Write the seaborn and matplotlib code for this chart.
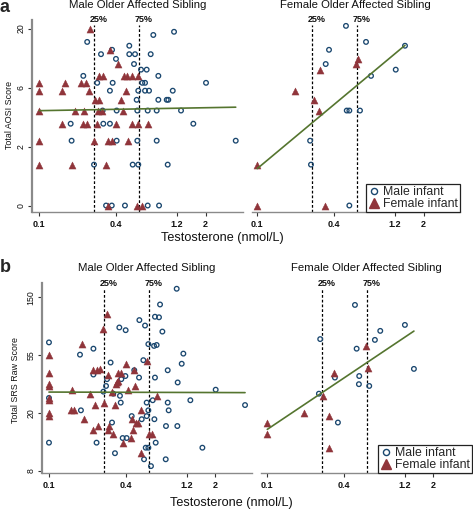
import numpy as np
import pandas as pd
import matplotlib
matplotlib.use("Agg")
import matplotlib.pyplot as plt
import seaborn as sns
from matplotlib.lines import Line2D
from matplotlib.ticker import NullLocator, FixedLocator

# ---------------- data ----------------
# Panel a: Total AOSI score, male older affected sibling
aosi_msib_boy_x = [1.133, 0.780, 0.237, 0.506, 0.371, 0.304, 0.506, 0.561, 0.744, 0.398, 0.551,
                   0.625, 0.692, 0.221, 0.854, 0.284, 0.375, 0.640, 0.672, 2.016, 0.357, 0.595,
                   0.672, 0.722, 1.107, 0.578, 0.854, 0.993, 1.022, 0.313, 0.403, 0.585, 0.705,
                   0.829, 1.285, 0.176, 0.317, 0.357, 1.604, 0.179, 0.403, 0.585, 0.829, 3.443,
                   0.268, 0.538, 0.595, 1.011, 0.333, 0.369, 0.468, 0.705, 0.865]
aosi_msib_boy_y = [18, 17, 15, 14, 13, 12, 12, 12, 12, 11, 10, 9, 9, 8, 8, 7, 7, 7, 7, 7, 6, 6, 6, 6, 6,
                   5, 5, 5, 5, 4, 4, 4, 4, 4, 4, 3, 3, 3, 3, 2, 2, 2, 2, 2, 1, 1, 1, 1, 0, 0, 0, 0, 0]
aosi_msib_girl_x = [0.249, 0.357, 0.415, 0.293, 0.313, 0.463, 0.483, 0.529, 0.595, 0.100, 0.159,
                    0.212, 0.231, 0.100, 0.150, 0.245, 0.474, 0.273, 0.295, 0.434, 0.100, 0.190,
                    0.224, 0.286, 0.308, 0.449, 0.150, 0.219, 0.237, 0.284, 0.398, 0.529, 0.595,
                    0.705, 0.100, 0.268, 0.347, 0.369, 0.497, 0.100, 0.181, 0.333, 0.347, 0.585, 0.633]
aosi_msib_girl_y = [19, 13, 10, 8, 8, 8, 8, 8, 8, 7, 7, 7, 7, 6, 6, 6, 6, 5, 5, 5, 4, 4, 4, 4, 4, 4,
                    3, 3, 3, 3, 3, 3, 3, 3, 2, 2, 2, 2, 2, 1, 1, 1, 0, 0, 0]
# Panel a: female older affected sibling
aosi_fsib_boy_x = [0.494, 0.709, 1.431, 0.364, 0.343, 1.211, 0.776, 0.501, 0.525, 0.636, 0.259, 0.263, 0.525]
aosi_fsib_boy_y = [20, 15, 14, 13, 10, 9, 8, 4, 4, 4, 2, 1, 0]
aosi_fsib_girl_x = [0.610, 0.592, 0.310, 0.197, 0.278, 0.306, 0.100, 0.100, 0.339]
aosi_fsib_girl_y = [11, 10, 9, 6, 5, 4, 1, 0, 0]

# Panel b: Total SRS raw score, male older affected sibling
srs_msib_boy_x = [1.002, 0.742, 0.677, 0.728, 0.511, 0.356, 0.399, 0.566, 0.774, 0.100, 0.601, 0.666,
                  0.698, 0.223, 0.175, 1.130, 0.549, 0.304, 1.097, 0.466, 0.223, 0.285, 0.397, 0.508,
                  0.852, 0.677, 1.020, 0.369, 0.280, 0.267, 2.025, 0.319, 0.360, 0.100, 0.365, 0.583,
                  0.650, 0.852, 1.282, 0.178, 0.601, 0.867, 0.445, 0.583, 0.533, 0.670, 0.312, 0.826,
                  1.014, 0.378, 0.406, 0.236, 0.686, 0.100, 0.573, 0.601, 1.593, 0.329, 0.556, 0.822,
                  0.630, 3.440]
srs_msib_boy_y = [172, 131, 106, 105, 100, 88, 84, 91, 82, 68, 66, 64, 65, 61, 55, 56, 50, 48, 47, 42,
                  39, 36, 38, 37, 42, 37, 34, 36, 32, 29, 30, 28, 27, 26, 24, 24, 25, 24, 25, 21, 21, 21,
                  19, 19, 18, 18, 17, 16, 16, 13, 13, 12, 12, 12, 11, 11, 11, 10, 9, 9, 8, 23]
srs_msib_girl_x = [0.287, 0.267, 0.183, 0.100, 0.401, 0.583, 0.221, 0.238, 0.251, 0.100, 0.288, 0.349,
                   0.367, 0.466, 0.345, 0.339, 0.333, 0.100, 0.100, 0.472, 0.416, 0.151, 0.310, 0.210,
                   0.100, 0.100, 0.698, 0.272, 0.229, 0.331, 0.526, 0.149, 0.157, 0.100, 0.100, 0.189,
                   0.445, 0.481, 0.502, 0.295, 0.242, 0.220, 0.292, 0.319, 0.453, 0.608, 0.646, 0.437,
                   0.383, 0.523]
srs_msib_girl_y = [111, 85, 66, 55, 47, 49, 42, 42, 43, 40, 39, 40, 40, 42, 35, 34, 33, 33, 32, 32, 30,
                   30, 29, 28, 26, 25, 27, 24, 23, 23, 21, 21, 21, 20, 19, 18, 18, 17, 17, 16, 16, 15,
                   15, 14, 15, 14, 14, 13, 12, 10]
# Panel b: female older affected sibling
srs_fsib_boy_x = [0.487, 1.200, 0.769, 0.698, 0.260, 0.502, 1.412, 0.339, 0.526, 0.523, 0.630, 0.254, 0.358]
srs_fsib_boy_y = [130, 92, 83, 71, 72, 61, 43, 37, 38, 33, 32, 28, 17]
srs_fsib_girl_x = [0.590, 0.612, 0.333, 0.275, 0.194, 0.304, 0.100, 0.100, 0.303]
srs_fsib_girl_y = [64, 44, 40, 27, 20, 19, 17, 14, 11]

# testosterone quartile reference lines
quartile_values = [0.268, 0.605]
quartile_labels = ["25%", "75%"]

# tick values / labels
x_ticks = [0.1, 0.4, 1.2, 2]
x_tick_labels = ["0.1", "0.4", "1.2", "2"]
aosi_ticks = [np.expm1(0), np.expm1(1), np.expm1(2), np.expm1(3)]
aosi_tick_labels = ["0", "2", "6", "20"]
srs_ticks = [np.exp(2), np.exp(3), np.exp(4), np.exp(5)]
srs_tick_labels = ["8", "20", "55", "150"]

panel_titles = ["Male Older Affected Sibling", "Female Older Affected Sibling"]
legend_labels = ["Male infant", "Female infant"]

# ---------------- style ----------------
sns.set_theme(style="ticks")
plt.rcParams["font.family"] = ["Liberation Sans", "DejaVu Sans"]

NAVY = "#1a476f"
MAROON = "#90353b"
GREEN = "#55752f"
SPINE = "#8a8a8a"

W, H = 473, 511
fig = plt.figure(figsize=(W / 100, H / 100), dpi=100)
fig.patch.set_facecolor("white")


def add_ax(x0, x1, ytop, ybot):
    return fig.add_axes([x0 / W, 1 - ybot / H, (x1 - x0) / W, (ybot - ytop) / H])


def fwd_aosi(v):
    with np.errstate(all="ignore"):
        return np.log1p(np.asarray(v, dtype=float))


def inv_aosi(v):
    return np.expm1(np.asarray(v, dtype=float))


def panel(ax, bx, by, gx, gy, kind, title, first, legend):
    dm = pd.DataFrame({"x": bx, "y": by})
    dg = pd.DataFrame({"x": gx, "y": gy})
    ax.set_xscale("log")
    if kind == "aosi":
        ax.set_yscale("function", functions=(fwd_aosi, inv_aosi))
        f, finv = fwd_aosi, inv_aosi
    else:
        ax.set_yscale("log")
        f, finv = np.log, np.exp

    sns.scatterplot(data=dm, x="x", y="y", marker="o", s=11, facecolor="none",
                    edgecolor=NAVY, linewidth=0.95, ax=ax, zorder=3, legend=False)
    sns.scatterplot(data=dg, x="x", y="y", marker="^", s=26, color=MAROON,
                    edgecolor=MAROON, linewidth=0.3, ax=ax, zorder=4, legend=False)

    # linear fit in transformed space
    xa = np.concatenate([np.asarray(bx, float), np.asarray(gx, float)])
    ya = np.concatenate([np.asarray(by, float), np.asarray(gy, float)])
    b1, b0 = np.polyfit(np.log(xa), f(ya), 1)
    xs = np.array([xa.min(), xa.max()])
    ys = finv(b0 + b1 * np.log(xs))
    sns.lineplot(x=xs, y=ys, color=GREEN, linewidth=1.2, ax=ax, zorder=5)

    for q, lab in zip(quartile_values, quartile_labels):
        ax.axvline(q, ymin=0, ymax=0.972, color="black", linestyle=(0, (2.2, 1.6)),
                   linewidth=0.9, zorder=2)
        ax.annotate(lab, xy=(q, 1.0), xycoords=("data", "axes fraction"),
                    xytext=(3.5, 0), textcoords="offset points", ha="center",
                    va="center", fontsize=6.5, fontweight="bold", color="#111111")

    ax.annotate(title, xy=(0.5, 1.0), xycoords="axes fraction", xytext=(0, 10.5),
                textcoords="offset points", ha="center", va="center", fontsize=8.2,
                color="#111111")

    ax.xaxis.set_major_locator(FixedLocator(x_ticks))
    ax.set_xticklabels(x_tick_labels, fontsize=6.5, fontweight="bold")
    ax.xaxis.set_minor_locator(NullLocator())
    ax.yaxis.set_minor_locator(NullLocator())
    if kind == "aosi":
        ax.yaxis.set_major_locator(FixedLocator(aosi_ticks))
        ax.set_yticklabels(aosi_tick_labels, rotation=90, va="center", fontsize=6.3)
    else:
        ax.yaxis.set_major_locator(FixedLocator(srs_ticks))
        ax.set_yticklabels(srs_tick_labels, rotation=90, va="center", fontsize=6.3)

    ax.set_xlabel("")
    ax.set_ylabel("")
    ax.set_facecolor("white")
    for s in ["top", "right"]:
        ax.spines[s].set_visible(False)
    ax.spines["bottom"].set_color(SPINE)
    ax.spines["bottom"].set_linewidth(1.0)
    ax.spines["left"].set_color(SPINE)
    ax.spines["left"].set_linewidth(1.6)
    ax.tick_params(axis="x", direction="out", length=3, width=0.8, pad=2.5,
                   colors="#111111")
    ax.tick_params(axis="x", color="#333333")
    ax.tick_params(axis="y", direction="out", length=3, width=0.8, pad=1.5,
                   colors="#111111")
    ax.tick_params(axis="y", color="#333333")
    if not first:
        ax.spines["left"].set_visible(False)
        ax.tick_params(axis="y", left=False, labelleft=False)

    if legend:
        handles = [Line2D([], [], marker="o", ls="none", markersize=4.4,
                          markerfacecolor="none", markeredgecolor=NAVY, markeredgewidth=1.0),
                   Line2D([], [], marker="^", ls="none", markersize=6.5,
                          markerfacecolor=MAROON, markeredgecolor=MAROON)]
        leg = ax.legend(handles, legend_labels, loc="lower right", bbox_to_anchor=(1.0, 0.0),
                        frameon=True, fancybox=False, fontsize=8.8, handlelength=0.9,
                        handletextpad=0.35, borderpad=0.15, labelspacing=0.02,
                        borderaxespad=0.0)
        leg.get_frame().set_edgecolor("#222222")
        leg.get_frame().set_linewidth(0.9)
        leg.get_frame().set_facecolor("white")
        leg.get_frame().set_alpha(1)


# panel a
ax_a1 = add_ax(32, 243, 20, 212)
panel(ax_a1, aosi_msib_boy_x, aosi_msib_boy_y, aosi_msib_girl_x, aosi_msib_girl_y,
      "aosi", panel_titles[0], True, False)
ax_a1.set_xlim(0.0877, 3.925)
ax_a1.set_ylim(-0.104, 22.2)

ax_a2 = add_ax(251.7, 460, 20, 212)
panel(ax_a2, aosi_fsib_boy_x, aosi_fsib_boy_y, aosi_fsib_girl_x, aosi_fsib_girl_y,
      "aosi", panel_titles[1], False, True)
ax_a2.set_xlim(0.0904, 3.855)
ax_a2.set_ylim(-0.104, 22.2)

# panel b
ax_b1 = add_ax(41.7, 252, 283, 473)
panel(ax_b1, srs_msib_boy_x, srs_msib_boy_y, srs_msib_girl_x, srs_msib_girl_y,
      "srs", panel_titles[0], True, False)
ax_b1.set_xlim(0.0877, 3.90)
ax_b1.set_ylim(7.10, 190)

ax_b2 = add_ax(260.7, 472, 283, 473)
panel(ax_b2, srs_fsib_boy_x, srs_fsib_boy_y, srs_fsib_girl_x, srs_fsib_girl_y,
      "srs", panel_titles[1], False, True)
ax_b2.set_xlim(0.0888, 4.03)
ax_b2.set_ylim(7.10, 190)

# shared labels
fig.text(10 / W, 1 - 115 / H, "Total AOSI Score", rotation=90, ha="center", va="center",
         fontsize=6.4, color="#111111")
fig.text(222 / W, 1 - 238 / H, "Testosterone (nmol/L)", ha="center", va="center",
         fontsize=9.1, color="#111111")
fig.text(15 / W, 1 - 380 / H, "Total SRS Raw Score", rotation=90, ha="center", va="center",
         fontsize=6.4, color="#111111")
fig.text(231 / W, 1 - 503 / H, "Testosterone (nmol/L)", ha="center", va="center",
         fontsize=9.1, color="#111111")
fig.text(0 / W, 1 - 8 / H, "a", ha="left", va="center", fontsize=13, fontweight="bold")
fig.text(0 / W, 1 - 267 / H, "b", ha="left", va="center", fontsize=13, fontweight="bold")

fig.savefig("out.png", dpi=100, facecolor="white")
